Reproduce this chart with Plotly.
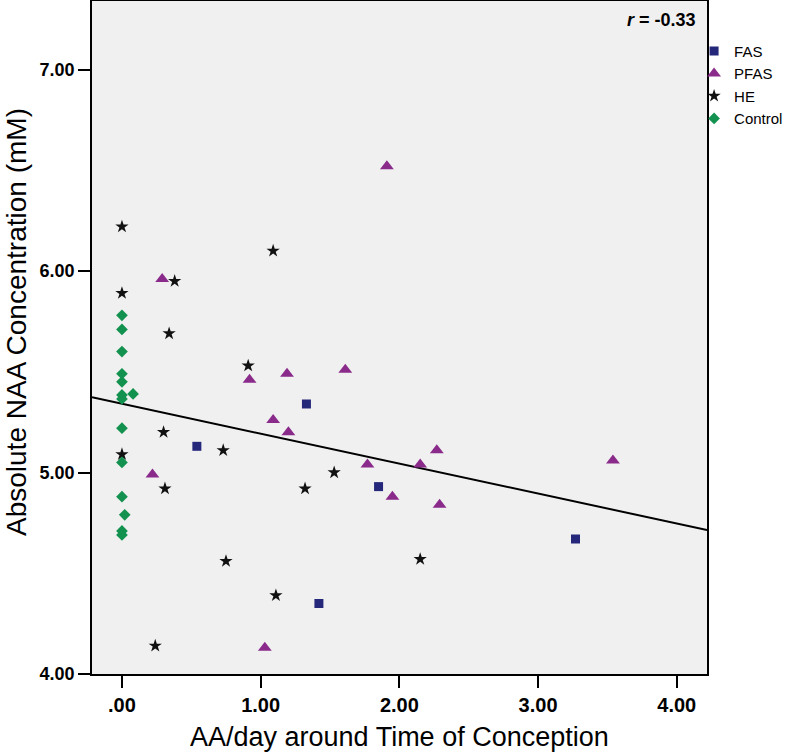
import plotly.graph_objects as go

# ---- data ----
fas_x = [0.54, 1.33, 1.85, 1.42, 3.27]
fas_y = [5.13, 5.34, 4.93, 4.35, 4.67]

pfas_x = [0.29, 0.92, 1.19, 1.61, 1.91, 1.09, 1.20, 0.22, 1.03, 2.27, 3.54, 1.77, 2.15, 1.95, 2.29]
pfas_y = [5.96, 5.46, 5.49, 5.51, 6.52, 5.26, 5.20, 4.99, 4.13, 5.11, 5.06, 5.04, 5.04, 4.88, 4.84]

he_x = [0.00, 1.09, 0.38, 0.00, 0.34, 0.91, 0.30, 0.73, 0.00, 1.53, 0.31, 1.32, 0.75, 1.11, 0.24, 2.15]
he_y = [6.22, 6.10, 5.95, 5.89, 5.69, 5.53, 5.20, 5.11, 5.09, 5.00, 4.92, 4.92, 4.56, 4.39, 4.14, 4.57]

ctrl_x = [0.00, 0.00, 0.00, 0.00, 0.00, 0.00, 0.00, 0.00, 0.00, 0.00, 0.00, 0.00, 0.08, 0.02]
ctrl_y = [5.78, 5.71, 5.60, 5.49, 5.45, 5.385, 5.365, 5.22, 5.05, 4.88, 4.71, 4.69, 5.39, 4.79]

# fitted regression line
fit_intercept = 5.341
fit_slope = -0.1485
x_range = [-0.216, 4.218]
y_range = [4.0, 7.34]
fit_x = x_range
fit_y = [fit_intercept + fit_slope * v for v in fit_x]

x_ticks = [0, 1, 2, 3, 4]
x_tick_text = [".00", "1.00", "2.00", "3.00", "4.00"]
y_ticks = [4, 5, 6, 7]
y_tick_text = ["4.00", "5.00", "6.00", "7.00"]

fig = go.Figure()
fig.add_trace(go.Scatter(x=fit_x, y=fit_y, mode="lines", line=dict(color="black", width=2),
                         showlegend=False, hoverinfo="skip"))
fig.add_trace(go.Scatter(x=fas_x, y=fas_y, mode="markers", name="FAS",
                         marker=dict(symbol="square", size=9, color="#25287a")))
fig.add_trace(go.Scatter(x=pfas_x, y=pfas_y, mode="markers", name="PFAS",
                         marker=dict(symbol="triangle-up", size=12, color="#8a2a8a")))
fig.add_trace(go.Scatter(x=he_x, y=he_y, mode="markers", name="HE",
                         marker=dict(symbol="star", size=10, color="#111111")))
fig.add_trace(go.Scatter(x=ctrl_x, y=ctrl_y, mode="markers", name="Control",
                         marker=dict(symbol="diamond", size=9, color="#12924e")))

fig.add_annotation(x=0.985, y=0.99, xref="paper", yref="paper", xanchor="right", yanchor="top",
                   text="<b><i>r</i> = -0.33</b>", showarrow=False,
                   font=dict(family="Liberation Sans, Arial", size=18, color="black"))

# axis titles
fig.add_annotation(x=0.5, y=-0.094, xref="paper", yref="paper", xanchor="center", yanchor="middle",
                   text="AA/day around Time of Conception", showarrow=False,
                   font=dict(family="Liberation Sans, Arial", size=27, color="black"))
fig.add_annotation(x=-0.1236, y=0.523, xref="paper", yref="paper", xanchor="center", yanchor="middle",
                   text="Absolute NAA Concentration (mM)", showarrow=False, textangle=-90,
                   font=dict(family="Liberation Sans, Arial", size=28, color="black"))

fig.update_layout(
    width=791, height=755,
    margin=dict(l=92, r=84, t=1, b=81, autoexpand=False),
    paper_bgcolor="white", plot_bgcolor="#f0f0f0",
    font=dict(family="Liberation Sans, Arial", color="black"),
    legend=dict(x=0.979, y=0.95, xanchor="left", yanchor="top",
                font=dict(family="Liberation Sans, Arial", size=15, color="black"),
                bgcolor="rgba(0,0,0,0)", borderwidth=0, itemwidth=30),
    showlegend=True,
)
fig.update_xaxes(range=x_range, tickmode="array", tickvals=x_ticks, ticktext=x_tick_text,
                 automargin=False,
                 showgrid=False, zeroline=False, showline=True, mirror=True,
                 linecolor="black", linewidth=1.5, ticks="outside", ticklen=12, tickwidth=1.5,
                 tickcolor="black",
                 tickfont=dict(family="Liberation Sans Narrow, Arial Narrow, Liberation Sans", size=20,
                               color="black", weight="bold"))
fig.update_yaxes(range=y_range, tickmode="array", tickvals=y_ticks, ticktext=y_tick_text,
                 automargin=False,
                 showgrid=False, zeroline=False, showline=True, mirror=True,
                 linecolor="black", linewidth=1.5, ticks="outside", ticklen=12, tickwidth=1.5,
                 tickcolor="black",
                 tickfont=dict(family="Liberation Sans, Arial", size=18, color="black", weight="bold"))

fig.write_html("out.html", config={"displayModeBar": False},
               post_script="document.body.style.margin='0';document.body.style.overflow='hidden';")
